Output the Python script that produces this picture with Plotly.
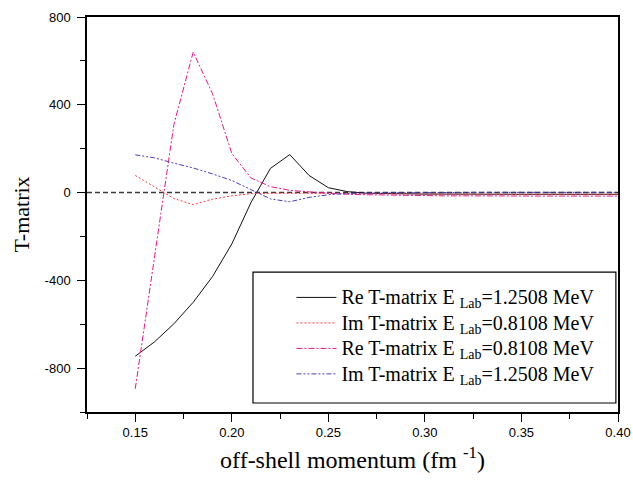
import plotly.graph_objects as go

# off-shell momentum grid (fm^-1)
momentum = [0.15, 0.16, 0.17, 0.18, 0.19, 0.20, 0.21, 0.22, 0.23, 0.24, 0.25, 0.26, 0.27,
            0.28, 0.29, 0.30, 0.31, 0.32, 0.33, 0.34, 0.35, 0.36, 0.37, 0.38, 0.39, 0.40]

re_t_12508 = [-746, -680, -598, -500, -383, -234, -44, 110, 173, 78, 22, 4, -3,
              -5, -6, -7, -7, -8, -8, -8, -8, -8, -8, -8, -8, -8]
im_t_08108 = [78, 24, -27, -55, -30, -15, -5, -3, -2, -3, -4, -5, -6,
              -7, -7, -8, -8, -8, -8, -8, -8, -8, -8, -8, -8, -8]
re_t_08108 = [-894, -290, 310, 640, 451, 178, 66, 27, 10, 3, -4, -8, -10,
              -12, -13, -14, -15, -15, -16, -16, -16, -16, -16, -16, -16, -16]
im_t_12508 = [172, 158, 134, 112, 85, 55, 13, -29, -42, -22, -10, -4, -2,
              -1, 0, 0, 0, 1, 1, 1, 1, 1, 1, 1, 1, 1]

legend_names = [
    "Re T-matrix E <sub>Lab</sub>=1.2508 MeV",
    "Im T-matrix E <sub>Lab</sub>=0.8108 MeV",
    "Re T-matrix E <sub>Lab</sub>=0.8108 MeV",
    "Im T-matrix E <sub>Lab</sub>=1.2508 MeV",
]

y_tick_vals = [-800, -400, 0, 400, 800]
y_tick_text = ["-800", "-400", "0", "400", "800"]
x_tick_vals = [0.15, 0.20, 0.25, 0.30, 0.35, 0.40]

serif = "Liberation Serif, Times New Roman, serif"
sans = "Liberation Sans, Arial, sans-serif"

line_styles = [
    dict(color="#111111", width=1, dash="solid"),
    dict(color="#FF3B3B", width=1, dash="2px,2px"),
    dict(color="#E8168C", width=1, dash="6px,2px,2px,2px"),
    dict(color="#4A3CB8", width=1, dash="5px,2px,2px,2px,2px,2px"),
]
series_values = [re_t_12508, im_t_08108, re_t_08108, im_t_12508]

fig = go.Figure()
for values, name, line in zip(series_values, legend_names, line_styles):
    # legend rows are spaced by the legend font; the label itself is set larger
    label = '<span style="font-size:20px">' + name + "</span>"
    fig.add_trace(go.Scatter(x=momentum, y=values, mode="lines", name=label, line=line))

# zero reference line
fig.add_shape(type="line", xref="paper", yref="y", x0=0, x1=1, y0=0, y1=0,
              line=dict(color="#3A3A3A", width=1.5, dash="5px,3px"), layer="below")

# legend frame
fig.add_shape(type="rect", xref="paper", yref="paper", x0=0.3126, x1=0.996, y0=0.0228, y1=0.354,
              line=dict(color="black", width=1.2), fillcolor="white", layer="below")

axis_common = dict(
    showline=True, linecolor="black", linewidth=1.5, mirror=True,
    ticks="outside", ticklen=8, tickwidth=1.2, tickcolor="black",
    showgrid=False, zeroline=False, automargin=False,
    tickfont=dict(family=sans, size=13, color="black"),
)

fig.update_xaxes(
    range=[0.125, 0.40], tickvals=x_tick_vals, tickformat=".2f",
    minor=dict(ticks="outside", ticklen=5, tickwidth=1, tickcolor="black", dtick=0.025, tick0=0.125),
    title=dict(text="off-shell momentum (fm <sup>-1</sup>)", font=dict(family=serif, size=24, color="black"),
               standoff=12),
    **axis_common,
)
fig.update_yaxes(
    range=[-1000, 800], tickvals=y_tick_vals, ticktext=y_tick_text, ticklabelstandoff=4,
    minor=dict(ticks="outside", ticklen=5, tickwidth=1, tickcolor="black", dtick=200, tick0=0),
    title=dict(text="T-matrix", font=dict(family=serif, size=22, color="black"), standoff=9),
    **axis_common,
)

fig.update_layout(
    width=633, height=480,
    margin=dict(l=87, r=15, t=17, b=68),
    paper_bgcolor="white", plot_bgcolor="white",
    showlegend=True,
    legend=dict(x=0.385, y=0.335, xanchor="left", yanchor="top",
                bgcolor="rgba(0,0,0,0)", borderwidth=0,
                font=dict(family=serif, size=17.3, color="black"),
                itemwidth=40, tracegroupgap=0),
)

fig.write_html("out.html")
